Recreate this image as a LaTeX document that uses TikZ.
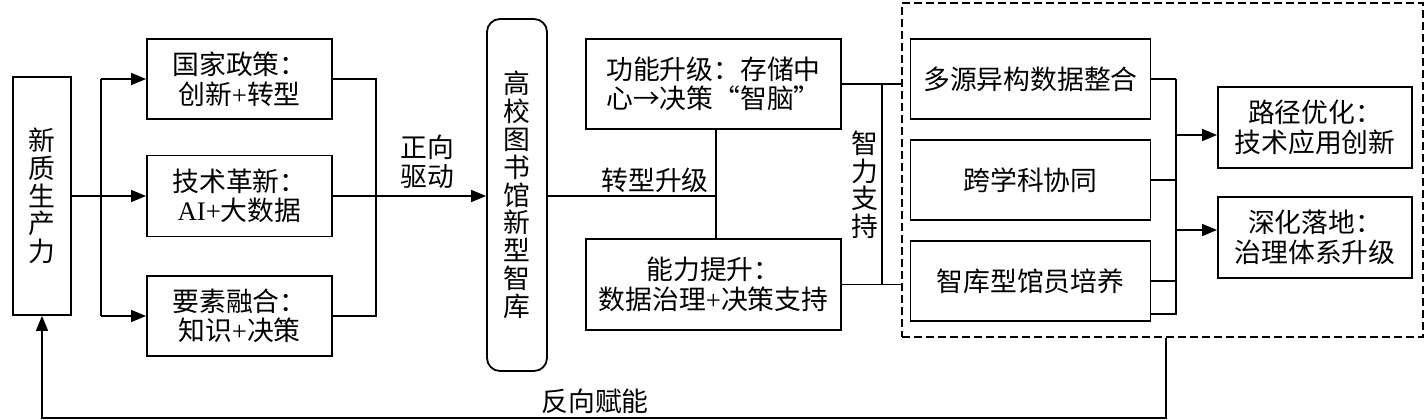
\documentclass[tikz,border=0pt]{standalone}
\usepackage{fontspec}
\setmainfont{Noto Sans CJK SC}
\newfontfamily\lat{Liberation Serif}
\usetikzlibrary{arrows.meta,calc}
\begin{document}
\begin{tikzpicture}[x=1pt,y=-1pt,
  box/.style={draw, line width=1.8pt, align=center, inner sep=0pt, font=\fontsize{26.8}{29.5}\selectfont},
  vbox/.style={box, font=\fontsize{26.8}{27.8}\selectfont},
  lbl/.style={align=center, inner sep=0pt, font=\fontsize{26.8}{29.5}\selectfont},
  vlbl/.style={lbl, font=\fontsize{26.8}{27.5}\selectfont},
  ln/.style={line width=1.6pt},
  arr/.style={ln, -{Triangle[length=15pt,width=12pt]}}]
\useasboundingbox (0,0) rectangle (1425,420);
% left column
\node[vbox, minimum width=58pt, minimum height=238pt] (xz) at (42,196) {新\\质\\生\\产\\力};
\node[box, minimum width=185pt, minimum height=80pt] (p1) at (239.5,79) {国家政策：\\创新{\lat +}转型};
\node[box, minimum width=185pt, minimum height=81pt] (p2) at (239.5,196) {技术革新：\\{\lat AI+}大数据};
\node[box, minimum width=185pt, minimum height=80pt] (p3) at (239.5,316) {要素融合：\\知识{\lat +}决策};
% library
\node[vbox, rounded corners=13pt, minimum width=60pt, minimum height=352pt] (lib) at (517,195) {高\\校\\图\\书\\馆\\新\\型\\智\\库};
% middle
\node[box, minimum width=255pt, minimum height=90pt] (f1) at (713.5,84) {功能升级：存储中\\心→决策“智脑”};
\node[box, minimum width=255pt, minimum height=91pt] (f2) at (713.5,284.5) {能力提升：\\数据治理{\lat +}决策支持};
% dashed group
\node[draw, line width=1.8pt, dash pattern=on 8pt off 4pt, minimum width=521pt, minimum height=334pt, inner sep=0pt] (grp) at (1162.5,170) {};
\node[box, minimum width=240pt, minimum height=80pt] (g1) at (1030.5,79) {多源异构数据整合};
\node[box, minimum width=240pt, minimum height=80pt] (g2) at (1030.5,180) {跨学科协同};
\node[box, minimum width=240pt, minimum height=80pt] (g3) at (1030.5,281) {智库型馆员培养};
% results
\node[box, minimum width=194pt, minimum height=81pt] (r1) at (1315,127.5) {路径优化：\\技术应用创新};
\node[box, minimum width=194pt, minimum height=81pt] (r2) at (1315,237.5) {深化落地：\\治理体系升级};
% labels
\node[lbl] (l1) at (427,162) {正向\\驱动};
\node[lbl] (l2) at (655,180) {转型升级};
\node[vlbl] (l3) at (865,185) {智\\力\\支\\持};
\node[lbl] (l4) at (595,401) {反向赋能};
% coordinates
\coordinate (t) at (101,196);
\coordinate (c) at (376,196);
\coordinate (m) at (716,196);
\coordinate (b) at (882,196);
\coordinate (v) at (1176,196);
\coordinate (a1) at (1176,135);
\coordinate (a2) at (1176,230);
\coordinate (fb) at (1166,418);
% left connectors
\draw[arr] (xz.east) -- (p2.west);
\draw[ln] (t |- p1.west) -- (t |- p3.west);
\draw[arr] (t |- p1.west) -- (p1.west);
\draw[arr] (t |- p3.west) -- (p3.west);
\draw[ln] (p1.east) -- (c |- p1.east) -- (c |- p3.east) -- (p3.east);
\draw[arr] (p2.east) -- (lib.west |- p2.east);
% middle connectors
\draw[ln] (lib.east |- m) -- (m);
\draw[ln] (m |- f1.south) -- (m |- f2.north);
\draw[ln] (f1.east) -- (f1.east -| grp.west);
\draw[ln] (f2.east) -- (f2.east -| grp.west);
\draw[ln] (b |- f1.east) -- (b |- f2.east);
% group right connectors
\draw[ln] (g1.east) -- (v |- g1.east);
\draw[ln] (g2.east) -- (v |- g2.east);
\draw[ln] (g3.east) -- (v |- g3.east);
\draw[ln] ($(g3.south east)+(0,-8)$) -- (v |- {$(g3.south east)+(0,-8)$}) -- (v |- g1.east);
\draw[arr] (a1) -- (a1 -| r1.west);
\draw[arr] (a2) -- (a2 -| r2.west);
% feedback
\draw[arr] (fb |- grp.south) -- (fb) -- (xz.south |- fb) -- (xz.south);
\end{tikzpicture}
\end{document}
